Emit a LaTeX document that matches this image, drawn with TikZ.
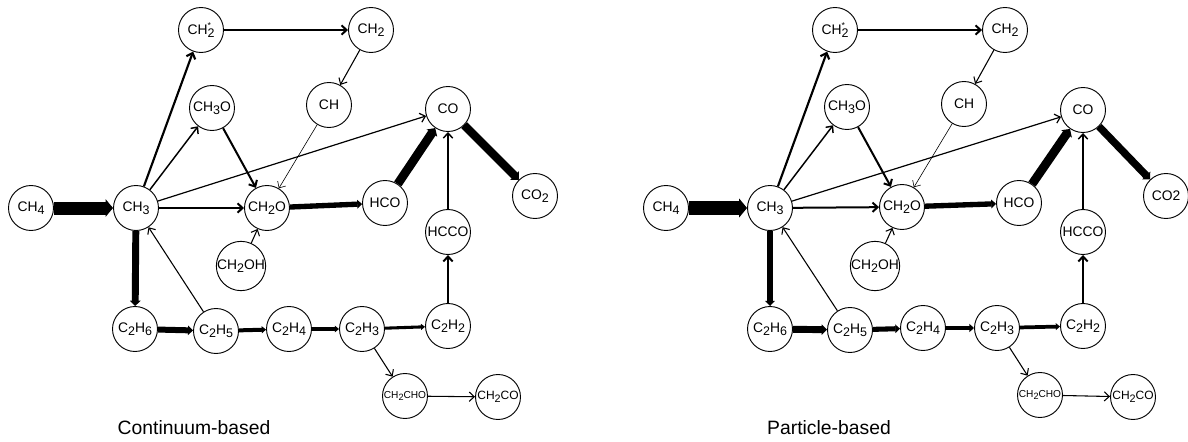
\documentclass[tikz,border=0pt]{standalone}
\usepackage{fontspec}
\setmainfont{Liberation Sans}
\usetikzlibrary{arrows.meta}
\newcommand{\sbs}[1]{\raisebox{-0.4ex}{\scalebox{0.9}{#1}}}
\newcommand{\cht}{CH\rlap{\raisebox{5pt}{\fontsize{6.5}{6.5}\selectfont *}}\sbs{2}}
\begin{document}
\begin{tikzpicture}[x=0.75pt,y=-0.75pt,
  sp/.style={circle,draw,line width=0.7pt,minimum size=33.75pt,inner sep=0pt,font=\fontsize{10.4}{12}\selectfont},
  spsmall/.style={sp,font=\fontsize{7.6}{9}\selectfont},
  spmid/.style={sp,font=\fontsize{9}{10}\selectfont},
  ta/.style={line width=#1,-{Straight Barb[length=3.8pt,width=7pt]}},
  tb/.style={line width=#1,-{Triangle[length=2.2pt 0.35,width=1.8pt 1.15]}},
  lab/.style={font=\fontsize{14.5}{16}\selectfont}]
\useasboundingbox (0,0) rectangle (1188,442);
% ---------------- left panel ----------------
\node[sp] (aCH4) at (31,208) {CH\sbs{4}};
\node[sp] (aCH3) at (136,208) {CH\sbs{3}};
\node[sp] (aCH2s) at (201,30) {\cht};
\node[sp] (aCH2) at (371,30) {CH\sbs{2}};
\node[sp] (aCH3O) at (212,108) {CH\sbs{3}O};
\node[sp] (aCH) at (329,105) {CH};
\node[sp] (aCO) at (448,109) {CO};
\node[sp] (aCH2O) at (267,208) {CH\sbs{2}O};
\node[sp] (aHCO) at (385,203) {HCO};
\node[sp] (aCO2) at (535,196) {CO\sbs{2}};
\node[sp] (aHCCO) at (448,232) {HCCO};
\node[sp] (aCH2OH) at (241,266) {CH\sbs{2}OH};
\node[sp] (aC2H6) at (135,329) {C\sbs{2}H\sbs{6}};
\node[sp] (aC2H5) at (216,331) {C\sbs{2}H\sbs{5}};
\node[sp] (aC2H4) at (289,329) {C\sbs{2}H\sbs{4}};
\node[sp] (aC2H3) at (362,329) {C\sbs{2}H\sbs{3}};
\node[sp] (aC2H2) at (448,326) {C\sbs{2}H\sbs{2}};
\node[spsmall] (aCH2CHO) at (405,396) {CH\sbs{2}CHO};
\node[spmid] (aCH2CO) at (498,397) {CH\sbs{2}CO};
\node[lab] (alab) at (194,428) {Continuum-based};
\draw[tb=9.75pt] (aCH4) -- (aCH3);
\draw[tb=5.2pt] (aCH3) -- (aC2H6);
\draw[tb=4.5pt] (aC2H6) -- (aC2H5);
\draw[tb=3pt] (aC2H5) -- (aC2H4);
\draw[tb=2.6pt] (aC2H4) -- (aC2H3);
\draw[tb=2.3pt] (aC2H3) -- (aC2H2);
\draw[ta=1.5pt] (aC2H2) -- (aHCCO);
\draw[ta=1.1pt] (aHCCO) -- (aCO);
\draw[ta=1.5pt] (aCH3) -- (aCH2O);
\draw[tb=4pt] (aCH2O) -- (aHCO);
\draw[tb=6.6pt] (aHCO) -- (aCO);
\draw[tb=6.3pt] (aCO) -- (aCO2);
\draw[ta=1.6pt] (aCH3) -- (aCH2s);
\draw[ta=1.5pt] (aCH2s) -- (aCH2);
\draw[ta=0.8pt] (aCH2) -- (aCH);
\draw[ta=0.45pt] (aCH) -- (aCH2O);
\draw[ta=1.1pt] (aCH3) -- (aCH3O);
\draw[ta=1.5pt] (aCH3O) -- (aCH2O);
\draw[ta=0.9pt] (aCH3) -- (aCO);
\draw[ta=0.8pt] (aCH2OH) -- (aCH2O);
\draw[ta=0.8pt] (aC2H5) -- (aCH3);
\draw[ta=0.8pt] (aC2H3) -- (aCH2CHO);
\draw[ta=0.8pt] (aCH2CHO) -- (aCH2CO);
% ---------------- right panel ----------------
\node[sp] (bCH4) at (666,208) {CH\sbs{4}};
\node[sp] (bCH3) at (770,208) {CH\sbs{3}};
\node[sp] (bCH2s) at (835,30) {\cht};
\node[sp] (bCH2) at (1005,30) {CH\sbs{2}};
\node[sp] (bCH3O) at (847,107) {CH\sbs{3}O};
\node[sp] (bCH) at (964,104) {CH};
\node[sp] (bCO) at (1083,110) {CO};
\node[sp] (bCH2O) at (902,207) {CH\sbs{2}O};
\node[sp] (bHCO) at (1019,203) {HCO};
\node[sp] (bCO2) at (1166,196) {CO2};
\node[sp] (bHCCO) at (1083,232) {HCCO};
\node[sp] (bCH2OH) at (875,266) {CH\sbs{2}OH};
\node[sp] (bC2H6) at (770,329) {C\sbs{2}H\sbs{6}};
\node[sp] (bC2H5) at (850,330) {C\sbs{2}H\sbs{5}};
\node[sp] (bC2H4) at (923,328) {C\sbs{2}H\sbs{4}};
\node[sp] (bC2H3) at (997,328) {C\sbs{2}H\sbs{3}};
\node[sp] (bC2H2) at (1083,326) {C\sbs{2}H\sbs{2}};
\node[spsmall] (bCH2CHO) at (1040,395) {CH\sbs{2}CHO};
\node[spmid] (bCH2CO) at (1133,397) {CH\sbs{2}CO};
\node[lab] (blab) at (829,428) {Particle-based};
\draw[tb=10.5pt] (bCH4) -- (bCH3);
\draw[tb=4.6pt] (bCH3) -- (bC2H6);
\draw[tb=5.2pt] (bC2H6) -- (bC2H5);
\draw[tb=3.8pt] (bC2H5) -- (bC2H4);
\draw[tb=3.6pt] (bC2H4) -- (bC2H3);
\draw[tb=2.8pt] (bC2H3) -- (bC2H2);
\draw[ta=1.5pt] (bC2H2) -- (bHCCO);
\draw[ta=1.1pt] (bHCCO) -- (bCO);
\draw[ta=1.5pt] (bCH3) -- (bCH2O);
\draw[tb=4pt] (bCH2O) -- (bHCO);
\draw[tb=6.6pt] (bHCO) -- (bCO);
\draw[tb=5.6pt] (bCO) -- (bCO2);
\draw[ta=1.6pt] (bCH3) -- (bCH2s);
\draw[ta=1.5pt] (bCH2s) -- (bCH2);
\draw[ta=0.8pt] (bCH2) -- (bCH);
\draw[ta=0.45pt] (bCH) -- (bCH2O);
\draw[ta=1.1pt] (bCH3) -- (bCH3O);
\draw[ta=1.5pt] (bCH3O) -- (bCH2O);
\draw[ta=0.9pt] (bCH3) -- (bCO);
\draw[ta=0.8pt] (bCH2OH) -- (bCH2O);
\draw[ta=0.8pt] (bC2H5) -- (bCH3);
\draw[ta=0.8pt] (bC2H3) -- (bCH2CHO);
\draw[ta=0.8pt] (bCH2CHO) -- (bCH2CO);
\end{tikzpicture}
\end{document}
